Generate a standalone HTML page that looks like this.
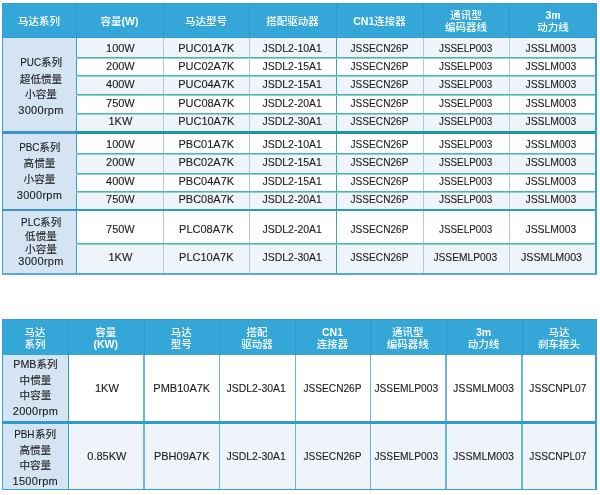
<!DOCTYPE html>
<html><head><meta charset="utf-8"><style>
html,body{margin:0;padding:0;background:#fff;}
body{width:600px;height:495px;position:relative;overflow:hidden;}
#w{position:absolute;left:0;top:0;width:600px;height:495px;filter:blur(0.35px);}
div{position:absolute;box-sizing:border-box;}
.h{color:#fff;font-family:"Liberation Sans","Noto Sans CJK SC",sans-serif;font-size:10.5px;font-weight:var(--hw,bold);text-align:center;white-space:nowrap;}
.d{color:#1c1c1c;-webkit-text-stroke:0.12px #1c1c1c;font-family:"Liberation Sans","Noto Sans CJK SC",sans-serif;font-size:11px;line-height:13px;height:13px;text-align:center;white-space:nowrap;}
.d span{display:inline-block;}
.d i{font-style:normal;font-size:10.6px;}
</style></head><body><div id="w">
<div style="left:2px;top:3px;width:595.00px;height:34.80px;background:#34a6d7"></div>
<div style="left:2px;top:37.8px;width:74.00px;height:235.20px;background:#d4e4f2"></div>
<div style="left:76px;top:37.8px;width:521.00px;height:19.80px;background:#eff4fb"></div>
<div style="left:76px;top:57.6px;width:521.00px;height:17.90px;background:#ffffff"></div>
<div style="left:76px;top:75.5px;width:521.00px;height:18.80px;background:#eff4fb"></div>
<div style="left:76px;top:94.3px;width:521.00px;height:18.80px;background:#ffffff"></div>
<div style="left:76px;top:113.1px;width:521.00px;height:18.20px;background:#eff4fb"></div>
<div style="left:76px;top:133.8px;width:521.00px;height:19.60px;background:#ffffff"></div>
<div style="left:76px;top:153.4px;width:521.00px;height:19.90px;background:#eff4fb"></div>
<div style="left:76px;top:173.3px;width:521.00px;height:18.60px;background:#ffffff"></div>
<div style="left:76px;top:191.9px;width:521.00px;height:17.40px;background:#eff4fb"></div>
<div style="left:76px;top:211.2px;width:521.00px;height:32.10px;background:#ffffff"></div>
<div style="left:76px;top:243.3px;width:521.00px;height:29.70px;background:#eff4fb"></div>
<div style="left:2px;top:319px;width:594.50px;height:35.50px;background:#34a6d7"></div>
<div style="left:2px;top:354.5px;width:66.00px;height:66.50px;background:#d4e4f2"></div>
<div style="left:68px;top:354.5px;width:528.50px;height:66.50px;background:#ffffff"></div>
<div style="left:2px;top:423.8px;width:66.00px;height:65.20px;background:#d4e4f2"></div>
<div style="left:68px;top:423.8px;width:528.50px;height:65.20px;background:#eff4fb"></div>
<div style="left:76px;top:3px;width:1.00px;height:34.80px;background:#2e98ca"></div>
<div style="left:163px;top:3px;width:1.00px;height:34.80px;background:#2e98ca"></div>
<div style="left:249px;top:3px;width:1.00px;height:34.80px;background:#2e98ca"></div>
<div style="left:336px;top:3px;width:1.00px;height:34.80px;background:#2e98ca"></div>
<div style="left:423px;top:3px;width:1.00px;height:34.80px;background:#2e98ca"></div>
<div style="left:509px;top:3px;width:1.00px;height:34.80px;background:#2e98ca"></div>
<div style="left:76px;top:37.8px;width:1.20px;height:235.20px;background:#3d9fd2"></div>
<div style="left:162.6px;top:37.8px;width:1.60px;height:235.20px;background:#a9cce6"></div>
<div style="left:248.6px;top:37.8px;width:1.60px;height:235.20px;background:#a9cce6"></div>
<div style="left:336px;top:37.8px;width:1.20px;height:235.20px;background:#3d9fd2"></div>
<div style="left:422.6px;top:37.8px;width:1.60px;height:235.20px;background:#a9cce6"></div>
<div style="left:508.6px;top:37.8px;width:1.60px;height:235.20px;background:#a9cce6"></div>
<div style="left:68px;top:319px;width:1.00px;height:35.50px;background:#2e98ca"></div>
<div style="left:143.5px;top:319px;width:1.00px;height:35.50px;background:#2e98ca"></div>
<div style="left:219px;top:319px;width:1.00px;height:35.50px;background:#2e98ca"></div>
<div style="left:295px;top:319px;width:1.00px;height:35.50px;background:#2e98ca"></div>
<div style="left:370px;top:319px;width:1.00px;height:35.50px;background:#2e98ca"></div>
<div style="left:445.5px;top:319px;width:1.00px;height:35.50px;background:#2e98ca"></div>
<div style="left:521.5px;top:319px;width:1.00px;height:35.50px;background:#2e98ca"></div>
<div style="left:68px;top:354.5px;width:1.20px;height:134.50px;background:#2ba7aa"></div>
<div style="left:143.2px;top:354.5px;width:1.80px;height:134.50px;background:#6bb4dc"></div>
<div style="left:218.7px;top:354.5px;width:1.80px;height:134.50px;background:#6bb4dc"></div>
<div style="left:294.7px;top:354.5px;width:1.80px;height:134.50px;background:#6bb4dc"></div>
<div style="left:369.7px;top:354.5px;width:1.80px;height:134.50px;background:#6bb4dc"></div>
<div style="left:445.2px;top:354.5px;width:1.80px;height:134.50px;background:#6bb4dc"></div>
<div style="left:521.2px;top:354.5px;width:1.80px;height:134.50px;background:#6bb4dc"></div>
<div style="left:2px;top:3px;width:595.00px;height:1.00px;background:#3b9fcf"></div>
<div style="left:2px;top:36.8px;width:595.00px;height:1.00px;background:#2fa0d3"></div>
<div style="left:76px;top:57px;width:521.00px;height:1.00px;background:#4ab7b1"></div>
<div style="left:76px;top:58px;width:521.00px;height:0.60px;background:#8fd0cb"></div>
<div style="left:76px;top:75px;width:521.00px;height:1.00px;background:#4ab7b1"></div>
<div style="left:76px;top:76px;width:521.00px;height:0.60px;background:#8fd0cb"></div>
<div style="left:76px;top:94px;width:521.00px;height:1.00px;background:#4ab7b1"></div>
<div style="left:76px;top:95px;width:521.00px;height:0.60px;background:#8fd0cb"></div>
<div style="left:76px;top:113px;width:521.00px;height:1.00px;background:#4ab7b1"></div>
<div style="left:76px;top:114px;width:521.00px;height:0.60px;background:#8fd0cb"></div>
<div style="left:76px;top:153px;width:521.00px;height:1.00px;background:#4ab7b1"></div>
<div style="left:76px;top:154px;width:521.00px;height:0.60px;background:#8fd0cb"></div>
<div style="left:76px;top:173px;width:521.00px;height:1.00px;background:#4ab7b1"></div>
<div style="left:76px;top:174px;width:521.00px;height:0.60px;background:#8fd0cb"></div>
<div style="left:76px;top:191px;width:521.00px;height:1.00px;background:#4ab7b1"></div>
<div style="left:76px;top:192px;width:521.00px;height:0.60px;background:#8fd0cb"></div>
<div style="left:76px;top:243px;width:521.00px;height:1.00px;background:#4ab7b1"></div>
<div style="left:76px;top:244px;width:521.00px;height:0.60px;background:#8fd0cb"></div>
<div style="left:2px;top:131.3px;width:74.00px;height:2.50px;background:#3a95cf"></div>
<div style="left:76px;top:131.3px;width:521.00px;height:2.50px;background:#1a9aa0"></div>
<div style="left:2px;top:209.3px;width:74.00px;height:1.90px;background:#3a95cf"></div>
<div style="left:76px;top:209.3px;width:521.00px;height:1.90px;background:#2a9fb8"></div>
<div style="left:2px;top:3px;width:1.30px;height:271.50px;background:#3a9fd4"></div>
<div style="left:595.4px;top:3px;width:1.50px;height:271.50px;background:#3a9fd4"></div>
<div style="left:2px;top:273px;width:594.90px;height:1.50px;background:#58a9d5"></div>
<div style="left:2px;top:319px;width:594.50px;height:1.00px;background:#3b9fcf"></div>
<div style="left:2px;top:421px;width:594.50px;height:2.80px;background:#2f9bcc"></div>
<div style="left:2px;top:319px;width:1.30px;height:171.00px;background:#3a9fd4"></div>
<div style="left:595.3px;top:319px;width:1.50px;height:171.00px;background:#3a9fd4"></div>
<div style="left:2px;top:488.8px;width:594.80px;height:1.40px;background:#3a9fd4"></div>
<div class="h" style="left:2px;top:15.75px;width:74px;line-height:11.5px;font-weight:500">马达系列</div>
<div class="h" style="left:76px;top:15.75px;width:87px;line-height:11.5px;font-weight:500">容量<b>(W)</b></div>
<div class="h" style="left:163px;top:15.75px;width:86px;line-height:11.5px;font-weight:500">马达型号</div>
<div class="h" style="left:249px;top:15.75px;width:87px;line-height:11.5px;font-weight:500">搭配驱动器</div>
<div class="h" style="left:336px;top:15.75px;width:87px;line-height:11.5px;font-weight:500"><b>CN1</b>连接器</div>
<div class="h" style="left:423px;top:10.00px;width:86px;line-height:11.5px;font-weight:500">通讯型<br>编码器线</div>
<div class="h" style="left:509px;top:10.00px;width:88px;line-height:11.5px;font-weight:500"><b>3m</b><br>动力线</div>
<div class="d" style="left:4.0px;top:56.15px;width:74px"><span style="transform:scaleX(0.9);margin:0 -1.0px">PUC</span><i>系列</i></div>
<div class="d" style="left:4.0px;top:72.55px;width:74px"><i>超低惯量</i></div>
<div class="d" style="left:4.0px;top:88.05px;width:74px"><i>小容量</i></div>
<div class="d" style="left:4.0px;top:103.65px;width:74px"><span style="letter-spacing:0.3px">3000rpm</span></div>
<div class="d" style="left:76.9px;top:41.75px;width:87px"><span>100W</span></div>
<div class="d" style="left:163.3px;top:41.75px;width:86px"><span>PUC01A7K</span></div>
<div class="d" style="left:248.3px;top:41.75px;width:87px"><span style="transform:scaleX(0.95)">JSDL2-10A1</span></div>
<div class="d" style="left:336.3px;top:41.75px;width:87px"><span style="transform:scaleX(0.92)">JSSECN26P</span></div>
<div class="d" style="left:423px;top:41.75px;width:86px"><span style="transform:scaleX(0.9)">JSSELP003</span></div>
<div class="d" style="left:507.4px;top:41.75px;width:88px"><span style="transform:scaleX(0.945)">JSSLM003</span></div>
<div class="d" style="left:76.9px;top:59.75px;width:87px"><span>200W</span></div>
<div class="d" style="left:163.3px;top:59.75px;width:86px"><span>PUC02A7K</span></div>
<div class="d" style="left:248.3px;top:59.75px;width:87px"><span style="transform:scaleX(0.95)">JSDL2-15A1</span></div>
<div class="d" style="left:336.3px;top:59.75px;width:87px"><span style="transform:scaleX(0.92)">JSSECN26P</span></div>
<div class="d" style="left:423px;top:59.75px;width:86px"><span style="transform:scaleX(0.9)">JSSELP003</span></div>
<div class="d" style="left:507.4px;top:59.75px;width:88px"><span style="transform:scaleX(0.945)">JSSLM003</span></div>
<div class="d" style="left:76.9px;top:78.35px;width:87px"><span>400W</span></div>
<div class="d" style="left:163.3px;top:78.35px;width:86px"><span>PUC04A7K</span></div>
<div class="d" style="left:248.3px;top:78.35px;width:87px"><span style="transform:scaleX(0.95)">JSDL2-15A1</span></div>
<div class="d" style="left:336.3px;top:78.35px;width:87px"><span style="transform:scaleX(0.92)">JSSECN26P</span></div>
<div class="d" style="left:423px;top:78.35px;width:86px"><span style="transform:scaleX(0.9)">JSSELP003</span></div>
<div class="d" style="left:507.4px;top:78.35px;width:88px"><span style="transform:scaleX(0.945)">JSSLM003</span></div>
<div class="d" style="left:76.9px;top:96.65px;width:87px"><span>750W</span></div>
<div class="d" style="left:163.3px;top:96.65px;width:86px"><span>PUC08A7K</span></div>
<div class="d" style="left:248.3px;top:96.65px;width:87px"><span style="transform:scaleX(0.95)">JSDL2-20A1</span></div>
<div class="d" style="left:336.3px;top:96.65px;width:87px"><span style="transform:scaleX(0.92)">JSSECN26P</span></div>
<div class="d" style="left:423px;top:96.65px;width:86px"><span style="transform:scaleX(0.9)">JSSELP003</span></div>
<div class="d" style="left:507.4px;top:96.65px;width:88px"><span style="transform:scaleX(0.945)">JSSLM003</span></div>
<div class="d" style="left:76.9px;top:115.35px;width:87px"><span>1KW</span></div>
<div class="d" style="left:163.3px;top:115.35px;width:86px"><span>PUC10A7K</span></div>
<div class="d" style="left:248.3px;top:115.35px;width:87px"><span style="transform:scaleX(0.95)">JSDL2-30A1</span></div>
<div class="d" style="left:336.3px;top:115.35px;width:87px"><span style="transform:scaleX(0.92)">JSSECN26P</span></div>
<div class="d" style="left:423px;top:115.35px;width:86px"><span style="transform:scaleX(0.9)">JSSELP003</span></div>
<div class="d" style="left:507.4px;top:115.35px;width:88px"><span style="transform:scaleX(0.945)">JSSLM003</span></div>
<div class="d" style="left:2.5px;top:140.85px;width:74px"><span style="transform:scaleX(0.9);margin:0 -1.0px">PBC</span><i>系列</i></div>
<div class="d" style="left:2.5px;top:157.05px;width:74px"><i>高惯量</i></div>
<div class="d" style="left:2.5px;top:173.25px;width:74px"><i>小容量</i></div>
<div class="d" style="left:2.5px;top:189.05px;width:74px"><span style="letter-spacing:0.3px">3000rpm</span></div>
<div class="d" style="left:76.9px;top:137.55px;width:87px"><span>100W</span></div>
<div class="d" style="left:163.3px;top:137.55px;width:86px"><span>PBC01A7K</span></div>
<div class="d" style="left:248.3px;top:137.55px;width:87px"><span style="transform:scaleX(0.95)">JSDL2-10A1</span></div>
<div class="d" style="left:336.3px;top:137.55px;width:87px"><span style="transform:scaleX(0.92)">JSSECN26P</span></div>
<div class="d" style="left:423px;top:137.55px;width:86px"><span style="transform:scaleX(0.9)">JSSELP003</span></div>
<div class="d" style="left:507.4px;top:137.55px;width:88px"><span style="transform:scaleX(0.945)">JSSLM003</span></div>
<div class="d" style="left:76.9px;top:155.95px;width:87px"><span>200W</span></div>
<div class="d" style="left:163.3px;top:155.95px;width:86px"><span>PBC02A7K</span></div>
<div class="d" style="left:248.3px;top:155.95px;width:87px"><span style="transform:scaleX(0.95)">JSDL2-15A1</span></div>
<div class="d" style="left:336.3px;top:155.95px;width:87px"><span style="transform:scaleX(0.92)">JSSECN26P</span></div>
<div class="d" style="left:423px;top:155.95px;width:86px"><span style="transform:scaleX(0.9)">JSSELP003</span></div>
<div class="d" style="left:507.4px;top:155.95px;width:88px"><span style="transform:scaleX(0.945)">JSSLM003</span></div>
<div class="d" style="left:76.9px;top:174.55px;width:87px"><span>400W</span></div>
<div class="d" style="left:163.3px;top:174.55px;width:86px"><span>PBC04A7K</span></div>
<div class="d" style="left:248.3px;top:174.55px;width:87px"><span style="transform:scaleX(0.95)">JSDL2-15A1</span></div>
<div class="d" style="left:336.3px;top:174.55px;width:87px"><span style="transform:scaleX(0.92)">JSSECN26P</span></div>
<div class="d" style="left:423px;top:174.55px;width:86px"><span style="transform:scaleX(0.9)">JSSELP003</span></div>
<div class="d" style="left:507.4px;top:174.55px;width:88px"><span style="transform:scaleX(0.945)">JSSLM003</span></div>
<div class="d" style="left:76.9px;top:192.70px;width:87px"><span>750W</span></div>
<div class="d" style="left:163.3px;top:192.70px;width:86px"><span>PBC08A7K</span></div>
<div class="d" style="left:248.3px;top:192.70px;width:87px"><span style="transform:scaleX(0.95)">JSDL2-20A1</span></div>
<div class="d" style="left:336.3px;top:192.70px;width:87px"><span style="transform:scaleX(0.92)">JSSECN26P</span></div>
<div class="d" style="left:423px;top:192.70px;width:86px"><span style="transform:scaleX(0.9)">JSSELP003</span></div>
<div class="d" style="left:507.4px;top:192.70px;width:88px"><span style="transform:scaleX(0.945)">JSSLM003</span></div>
<div class="d" style="left:4.0px;top:216.35px;width:74px"><span style="transform:scaleX(0.9);margin:0 -1.0px">PLC</span><i>系列</i></div>
<div class="d" style="left:4.0px;top:229.75px;width:74px"><i>低惯量</i></div>
<div class="d" style="left:4.0px;top:242.65px;width:74px"><i>小容量</i></div>
<div class="d" style="left:4.0px;top:255.45px;width:74px"><span style="letter-spacing:0.3px">3000rpm</span></div>
<div class="d" style="left:76.9px;top:223.35px;width:87px"><span>750W</span></div>
<div class="d" style="left:163.3px;top:223.35px;width:86px"><span>PLC08A7K</span></div>
<div class="d" style="left:248.3px;top:223.35px;width:87px"><span style="transform:scaleX(0.95)">JSDL2-20A1</span></div>
<div class="d" style="left:336.3px;top:223.35px;width:87px"><span style="transform:scaleX(0.92)">JSSECN26P</span></div>
<div class="d" style="left:423px;top:223.35px;width:86px"><span style="transform:scaleX(0.9)">JSSELP003</span></div>
<div class="d" style="left:507.4px;top:223.35px;width:88px"><span style="transform:scaleX(0.945)">JSSLM003</span></div>
<div class="d" style="left:76.9px;top:250.95px;width:87px"><span>1KW</span></div>
<div class="d" style="left:163.3px;top:250.95px;width:86px"><span>PLC10A7K</span></div>
<div class="d" style="left:248.3px;top:250.95px;width:87px"><span style="transform:scaleX(0.95)">JSDL2-30A1</span></div>
<div class="d" style="left:336.3px;top:250.95px;width:87px"><span style="transform:scaleX(0.92)">JSSECN26P</span></div>
<div class="d" style="left:422px;top:250.95px;width:86px"><span style="transform:scaleX(0.93)">JSSEMLP003</span></div>
<div class="d" style="left:507.4px;top:250.95px;width:88px"><span style="transform:scaleX(0.97)">JSSMLM003</span></div>
<div class="h" style="left:2px;top:325.70px;width:66px;line-height:12.2px;font-weight:500">马达<br>系列</div>
<div class="h" style="left:68px;top:325.70px;width:75.5px;line-height:12.2px;font-weight:500">容量<br><b>(KW)</b></div>
<div class="h" style="left:143.5px;top:325.70px;width:75.5px;line-height:12.2px;font-weight:500">马达<br>型号</div>
<div class="h" style="left:219px;top:325.70px;width:76px;line-height:12.2px;font-weight:500">搭配<br>驱动器</div>
<div class="h" style="left:295px;top:325.70px;width:75px;line-height:12.2px;font-weight:500"><b>CN1</b><br>连接器</div>
<div class="h" style="left:370px;top:325.70px;width:75.5px;line-height:12.2px;font-weight:500">通讯型<br>编码器线</div>
<div class="h" style="left:445.5px;top:325.70px;width:76.0px;line-height:12.2px;font-weight:500"><b>3m</b><br>动力线</div>
<div class="h" style="left:521.5px;top:325.70px;width:75.0px;line-height:12.2px;font-weight:500">马达<br>刹车接头</div>
<div class="d" style="left:2.5px;top:358.35px;width:66px"><span style="transform:scaleX(0.97);margin:0 -0.3px">PMB</span><i>系列</i></div>
<div class="d" style="left:2.5px;top:373.85px;width:66px"><i>中惯量</i></div>
<div class="d" style="left:2.5px;top:389.15px;width:66px"><i>中容量</i></div>
<div class="d" style="left:2.5px;top:405.45px;width:66px"><span style="letter-spacing:0.3px">2000rpm</span></div>
<div class="d" style="left:69.1px;top:382.15px;width:75.5px"><span>1KW</span></div>
<div class="d" style="left:144.0px;top:382.15px;width:75.5px"><span>PMB10A7K</span></div>
<div class="d" style="left:218.2px;top:382.15px;width:76px"><span style="transform:scaleX(0.95)">JSDL2-30A1</span></div>
<div class="d" style="left:295px;top:382.15px;width:75px"><span style="transform:scaleX(0.92)">JSSECN26P</span></div>
<div class="d" style="left:368.6px;top:382.15px;width:75.5px"><span style="transform:scaleX(0.93)">JSSEMLP003</span></div>
<div class="d" style="left:445.7px;top:382.15px;width:76.0px"><span style="transform:scaleX(0.97)">JSSMLM003</span></div>
<div class="d" style="left:520.8px;top:382.15px;width:75.0px"><span style="transform:scaleX(0.925)">JSSCNPL07</span></div>
<div class="d" style="left:2.3px;top:427.65px;width:66px"><span style="transform:scaleX(0.9);margin:0 -1.0px">PBH</span><i>系列</i></div>
<div class="d" style="left:2.3px;top:444.15px;width:66px"><i>高惯量</i></div>
<div class="d" style="left:2.3px;top:459.05px;width:66px"><i>中容量</i></div>
<div class="d" style="left:2.3px;top:475.15px;width:66px"><span style="letter-spacing:0.3px">1500rpm</span></div>
<div class="d" style="left:69.1px;top:450.15px;width:75.5px"><span>0.85KW</span></div>
<div class="d" style="left:144.0px;top:450.15px;width:75.5px"><span>PBH09A7K</span></div>
<div class="d" style="left:218.2px;top:450.15px;width:76px"><span style="transform:scaleX(0.95)">JSDL2-30A1</span></div>
<div class="d" style="left:295px;top:450.15px;width:75px"><span style="transform:scaleX(0.92)">JSSECN26P</span></div>
<div class="d" style="left:368.6px;top:450.15px;width:75.5px"><span style="transform:scaleX(0.93)">JSSEMLP003</span></div>
<div class="d" style="left:445.7px;top:450.15px;width:76.0px"><span style="transform:scaleX(0.97)">JSSMLM003</span></div>
<div class="d" style="left:520.8px;top:450.15px;width:75.0px"><span style="transform:scaleX(0.925)">JSSCNPL07</span></div>
</div></body></html>
